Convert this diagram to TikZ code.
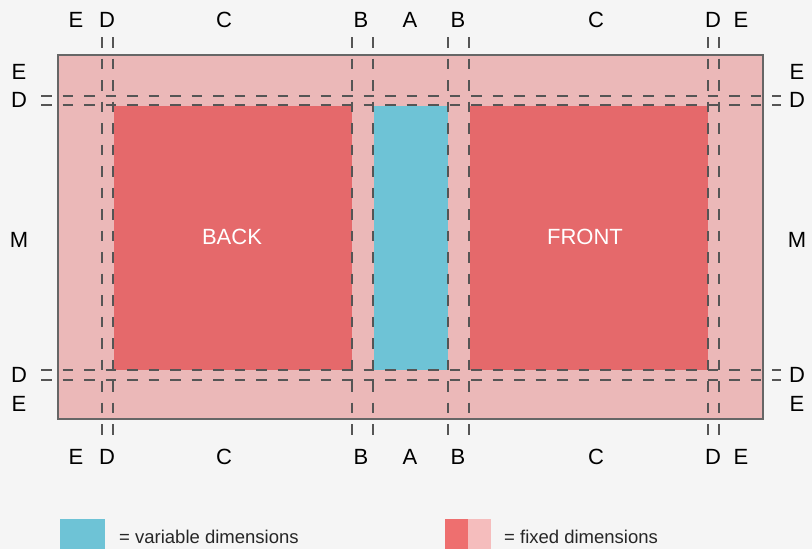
\documentclass[tikz,border=0pt]{standalone}
\usepackage{fontspec}
\setmainfont{Liberation Sans}
\usepackage{tikz}
\usetikzlibrary{calc}
\definecolor{bgcol}{HTML}{F5F5F5}
\definecolor{sheet}{HTML}{EBB8B8}
\definecolor{panel}{HTML}{E5696B}
\definecolor{spine}{HTML}{6EC3D6}
\definecolor{guide}{HTML}{555555}
\definecolor{legred}{HTML}{EE6F6F}
\definecolor{legpink}{HTML}{F5BDBD}
\tikzset{
  lbl/.style={font=\fontsize{22}{22}\selectfont, text=black, inner sep=0pt},
  guideline/.style={guide, line width=2pt, dash pattern=on 10.5pt off 11pt},
  legtext/.style={font=\fontsize{18.5}{18.5}\selectfont, text=black!85, anchor=west, inner sep=0pt}
}
\begin{document}
\begin{tikzpicture}[x=1pt,y=-1pt]
        \useasboundingbox[fill=bgcol] (0,0) rectangle (812,549);
        % sheet and panels
        \fill[sheet] (58,55) rectangle (763,419);
        \fill[panel] (114,106) rectangle (352,370);
        \fill[spine] (374,106) rectangle (448,370);
        \fill[panel] (470,106) rectangle (708,370);
        \draw[guide!90,line width=2pt] (58,55) rectangle (763,419);
        \node(back) at (232,237) {\fontsize{22}{22}\selectfont\color{white}BACK};
        \node(front) at (585,237) {\fontsize{22}{22}\selectfont\color{white}FRONT};
        % guides
        \foreach \gx in {102,113,352,373,448,469,708,719}
          \draw[guideline] (\gx,37) -- (\gx,438);
        \foreach \gy in {96,105,370,380}
          \draw[guideline] (41,\gy) -- (781,\gy);
        % labels top and bottom
        \foreach \lx/\lt in {76/E,107/D,224/C,361/B,410/A,458/B,596/C,713/D,741/E} {
          \node[lbl] at (\lx,20) {\lt};
          \node[lbl] at (\lx,457) {\lt};
        }
        % labels left and right
        \foreach \ly/\lt in {72/E,100/D,240/M,375/D,404/E} {
          \node[lbl] at (19,\ly) {\lt};
          \node[lbl] at (797,\ly) {\lt};
        }
        % legend
        \fill[spine] (60,519) rectangle (105,549);
        \node[legtext](var) at (119,537) {= variable dimensions};
        \fill[legred] (445,519) rectangle (468,549);
        \fill[legpink] (468,519) rectangle (491,549);
        \node[legtext](fix) at (504,537) {= fixed dimensions};
      \end{tikzpicture}
\end{document}
